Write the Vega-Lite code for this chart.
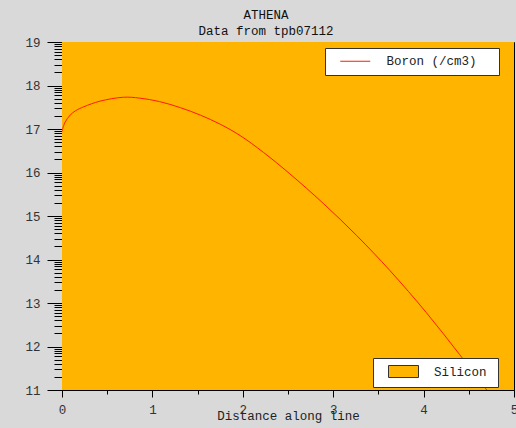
{
  "$schema": "https://vega.github.io/schema/vega-lite/v6.json",
  "width": 452,
  "height": 348,
  "autosize": {"type": "none"},
  "padding": {"left": 62, "top": 42, "right": 2, "bottom": 38},
  "background": "#d9d9d9",
  "title": {
    "text": ["ATHENA", "Data from tpb07112"],
    "font": "Liberation Mono",
    "fontSize": 12.5,
    "fontWeight": "normal",
    "color": "#111111",
    "lineHeight": 16,
    "anchor": "middle",
    "dx": -22,
    "offset": -1
  },
  "datasets": {
    "region": [{"material": "Silicon", "start": 0, "end": 5}],
    "profile": [
      {"species": "Boron (/cm3)", "distance": 0, "conc": 16.94},
      {"species": "Boron (/cm3)", "distance": 0.03, "conc": 17.14},
      {"species": "Boron (/cm3)", "distance": 0.09, "conc": 17.32},
      {"species": "Boron (/cm3)", "distance": 0.15, "conc": 17.42},
      {"species": "Boron (/cm3)", "distance": 0.24, "conc": 17.51},
      {"species": "Boron (/cm3)", "distance": 0.42, "conc": 17.64},
      {"species": "Boron (/cm3)", "distance": 0.68, "conc": 17.73},
      {"species": "Boron (/cm3)", "distance": 0.86, "conc": 17.71},
      {"species": "Boron (/cm3)", "distance": 1.08, "conc": 17.63},
      {"species": "Boron (/cm3)", "distance": 1.31, "conc": 17.49},
      {"species": "Boron (/cm3)", "distance": 1.53, "conc": 17.32},
      {"species": "Boron (/cm3)", "distance": 1.75, "conc": 17.11},
      {"species": "Boron (/cm3)", "distance": 1.97, "conc": 16.85},
      {"species": "Boron (/cm3)", "distance": 2.23, "conc": 16.46},
      {"species": "Boron (/cm3)", "distance": 2.52, "conc": 15.97},
      {"species": "Boron (/cm3)", "distance": 2.89, "conc": 15.29},
      {"species": "Boron (/cm3)", "distance": 3.26, "conc": 14.55},
      {"species": "Boron (/cm3)", "distance": 3.63, "conc": 13.74},
      {"species": "Boron (/cm3)", "distance": 4.03, "conc": 12.78},
      {"species": "Boron (/cm3)", "distance": 4.4, "conc": 11.81},
      {"species": "Boron (/cm3)", "distance": 4.72, "conc": 10.94}
    ]
  },
  "config": {
    "view": {"stroke": "#000000", "strokeWidth": 1, "fill": "#ffb400"},
    "axis": {
      "grid": false,
      "domainColor": "#000000",
      "tickColor": "#000000",
      "labelFont": "Liberation Mono",
      "labelFontSize": 12.5,
      "labelColor": "#333333",
      "titleFont": "Liberation Mono",
      "titleFontSize": 12.5,
      "titleFontWeight": "normal",
      "titleColor": "#222222",
      "labelOverlap": false,
      "labelFlush": false
    },
    "legend": {
      "labelFont": "Liberation Mono",
      "labelFontSize": 12.5,
      "labelColor": "#222222",
      "fillColor": "#ffffff",
      "strokeColor": "#333333",
      "padding": 7,
      "cornerRadius": 0
    }
  },
  "layer": [
    {
      "data": {"name": "region"},
      "mark": {"type": "rect"},
      "encoding": {
        "x": {"field": "start", "type": "quantitative"},
        "x2": {"field": "end"},
        "fill": {
          "field": "material",
          "type": "nominal",
          "scale": {"range": ["#ffb400"]},
          "legend": {
            "title": "\u00a0",
            "titleOrient": "right",
            "titlePadding": 4,
            "titleFont": "Liberation Mono",
            "titleFontSize": 12.5,
            "orient": "none",
            "legendX": 311,
            "legendY": 316,
            "symbolType": "M-2.5,-1H2.5V1H-2.5Z",
            "symbolSize": 144,
            "symbolOffset": 17,
            "labelOffset": 24,
            "symbolStrokeColor": "#333333",
            "symbolStrokeWidth": 1
          }
        }
      }
    },
    {
      "data": {"name": "profile"},
      "mark": {"type": "line", "strokeWidth": 1, "clip": true, "interpolate": "catmull-rom"},
      "encoding": {
        "x": {
          "field": "distance",
          "type": "quantitative",
          "scale": {"domain": [0, 5], "nice": false, "zero": false},
          "axis": {
            "title": "Distance along line",
            "values": [0, 0.25, 0.5, 0.75, 1, 1.25, 1.5, 1.75, 2, 2.25, 2.5, 2.75, 3, 3.25, 3.5, 3.75, 4, 4.25, 4.5, 4.75, 5],
            "labelExpr": "datum.value % 1 === 0 ? format(datum.value, 'd') : ''",
            "tickSize": {"condition": {"test": "datum.value % 1 === 0", "value": 7}, "value": 4},
            "labelPadding": 6,
            "titlePadding": -6
          }
        },
        "y": {
          "field": "conc",
          "type": "quantitative",
          "scale": {"domain": [11, 19], "nice": false, "zero": false},
          "axis": {
            "title": null,
            "values": [11, 11.301, 11.477, 11.602, 11.699, 11.778, 11.845, 11.903, 11.954,
                       12, 12.301, 12.477, 12.602, 12.699, 12.778, 12.845, 12.903, 12.954,
                       13, 13.301, 13.477, 13.602, 13.699, 13.778, 13.845, 13.903, 13.954,
                       14, 14.301, 14.477, 14.602, 14.699, 14.778, 14.845, 14.903, 14.954,
                       15, 15.301, 15.477, 15.602, 15.699, 15.778, 15.845, 15.903, 15.954,
                       16, 16.301, 16.477, 16.602, 16.699, 16.778, 16.845, 16.903, 16.954,
                       17, 17.301, 17.477, 17.602, 17.699, 17.778, 17.845, 17.903, 17.954,
                       18, 18.301, 18.477, 18.602, 18.699, 18.778, 18.845, 18.903, 18.954, 19],
            "labelExpr": "datum.value % 1 === 0 ? format(datum.value, 'd') : ''",
            "tickSize": {"condition": {"test": "datum.value % 1 === 0", "value": 15}, "value": 8},
            "labelPadding": 7
          }
        },
        "stroke": {
          "field": "species",
          "type": "nominal",
          "scale": {"range": ["#ff1a00"]},
          "legend": {
            "title": "\u00a0",
            "titleOrient": "right",
            "titlePadding": 15,
            "titleFont": "Liberation Mono",
            "titleFontSize": 12.5,
            "orient": "none",
            "legendX": 263,
            "legendY": 6,
            "symbolType": "M-3,0H3",
            "symbolSize": 100,
            "symbolOffset": 17,
            "labelOffset": 25,
            "symbolStrokeWidth": 1,
            "symbolStrokeColor": "#e00000"
          }
        }
      }
    }
  ]
}
